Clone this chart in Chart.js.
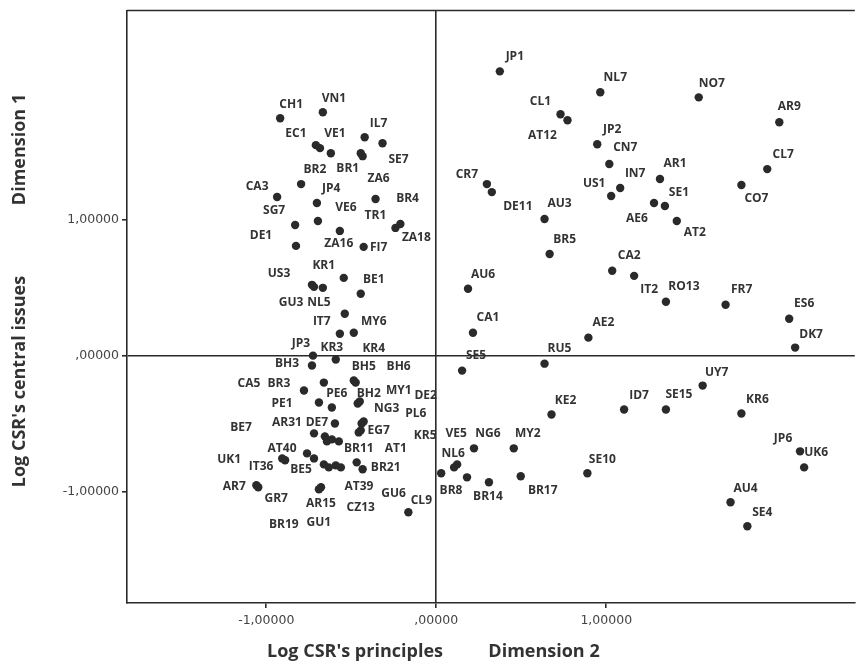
<!DOCTYPE html>
<html>
<head>
<meta charset="utf-8">
<script src="https://cdn.jsdelivr.net/npm/chart.js@4/dist/chart.umd.min.js"></script>
<style>
  html, body { margin: 0; padding: 0; background: #ffffff; overflow: hidden; }
  #wrap { width: 859px; height: 668px; }
</style>
</head>
<body>
<div id="wrap"><canvas id="c" width="859" height="668"></canvas></div>
<script>
// ---- Data ----
const pointLabels = [
  "CH1","VN1","EC1","BR2","VE1","IL7","SE7","BR1","ZA6","JP4","CA3","VE6","BR4","TR1","ZA18","SG7","",
  "ZA16","FI7","DE1","KR1","US3","GU3","NL5","BE1","IT7","MY6","KR3","KR4","JP3","BH3","BH5","BH6",
  "CA5","BR3","PE6","PE1","BH2","MY1","NG3","DE2","EG7","PL6","DE7","BE7","AR31","BR11","AT1","",
  "AT40","BE5","IT36","UK1","BR19","GU1","CZ13","","BR21","GU6","AR7","GR7","AT39","AR15","CL9",
  "JP1","NL7","NO7","AR9","CL1","AT12","JP2","CN7","CL7","AR1","IN7","US1","CR7","DE11","CO7","SE1",
  "AE6","AU3","AT2","BR5","CA2","IT2","RO13","AU6","FR7","ES6","CA1","AE2","DK7","RU5","SE5","UY7",
  "KE2","ID7","SE15","KR6","NG6","MY2","KR5","VE5","NL6","BR8","BR14","BR17","SE10","JP6","UK6","AU4","SE4"
];
const dimension2 = [
  -0.918,-0.667,-0.708,-0.684,-0.620,-0.421,-0.316,-0.444,-0.433,-0.795,-0.936,-0.702,-0.357,-0.240,-0.211,-0.830,-0.696,
  -0.567,-0.427,-0.825,-0.544,-0.731,-0.719,-0.667,-0.444,-0.538,-0.485,-0.567,-0.591,-0.725,-0.731,-0.485,-0.474,
  -0.778,-0.661,-0.614,-0.690,-0.462,-0.450,-0.439,-0.427,-0.456,-0.444,-0.596,-0.719,-0.655,-0.614,-0.573,-0.643,
  -0.760,-0.719,-0.889,-0.906,-0.661,-0.632,-0.591,-0.561,-0.468,-0.433,-1.058,-1.047,-0.678,-0.690,-0.164,
  0.374,0.965,1.544,2.018,0.731,0.772,0.947,1.018,1.947,1.316,1.082,1.029,0.298,0.327,1.795,1.345,
  1.281,0.637,1.415,0.667,1.035,1.164,1.351,0.187,1.702,2.076,0.216,0.895,2.111,0.637,0.152,1.567,
  0.678,1.105,1.351,1.795,0.222,0.456,0.029,0.123,0.105,0.181,0.310,0.497,0.889,2.140,2.164,1.731,1.830
];
const dimension1 = [
  1.744,1.788,1.546,1.524,1.487,1.604,1.560,1.487,1.465,1.260,1.165,1.121,1.150,0.938,0.967,0.960,0.989,
  0.916,0.799,0.806,0.571,0.520,0.505,0.498,0.454,0.308,0.168,0.161,-0.029,0.000,-0.073,-0.183,-0.198,
  -0.256,-0.198,-0.381,-0.344,-0.352,-0.337,-0.498,-0.484,-0.564,-0.549,-0.498,-0.571,-0.593,-0.615,-0.630,-0.630,
  -0.718,-0.755,-0.769,-0.755,-0.799,-0.821,-0.806,-0.821,-0.784,-0.835,-0.952,-0.967,-0.967,-0.982,-1.150,
  2.088,1.934,1.897,1.714,1.773,1.729,1.553,1.407,1.370,1.297,1.231,1.172,1.260,1.201,1.253,1.099,
  1.121,1.004,0.989,0.747,0.623,0.586,0.396,0.491,0.374,0.271,0.168,0.132,0.059,-0.059,-0.110,-0.220,
  -0.432,-0.396,-0.396,-0.425,-0.681,-0.681,-0.864,-0.799,-0.821,-0.894,-0.930,-0.886,-0.864,-0.703,-0.821,-1.077,-1.253
];
const xTickValues = [-1, 0, 1];
const xTickLabels = ["-1,00000", ",00000", "1,00000"];
const yTickValues = [-1, 0, 1];
const yTickLabels = ["-1,00000", ",00000", "1,00000"];
const xTitleParts = ["Log CSR's principles", "Dimension 2"];
const yTitleParts = ["Log CSR's central issues", "Dimension 1"];

// ---- Layout: label placement offsets (px) relative to each point ----
const labelOffsets = [
  [11,-14],[11,-14],[-20,-12],[-5,21],[4,-20],[14,-14],[16,16],[-13,15],[16,22],[30,4],[-20,-10],[29,5],[32,0],[-20,-12],[16,14],[-21,-14],[0,0],
  [-1,13],[15,1],[-35,-10],[-20,-12],[-33,-11],[-23,16],[-4,15],[13,-14],[-23,8],[20,-11],[-8,14],[38,-11],[-12,-12],[-25,-2],[10,-14],[43,-16],
  [-55,-7],[-45,1],[5,-14],[-37,1],[11,-10],[39,-11],[25,-15],[62,-26],[20,-2],[55,-17],[-18,-1],[-73,-6],[-38,-14],[27,9],[57,7],[0,0],
  [-25,-5],[-13,11],[-24,6],[-53,1],[-40,60],[-10,55],[25,42],[0,0],[29,5],[31,24],[-22,1],[18,11],[38,-1],[2,14],[13,-12],
  [15,-15],[15,-15],[13,-14],[10,-16],[-20,-13],[-25,15],[15,-15],[16,-16],[16,-15],[15,-15],[15,-14],[-17,-12],[-20,-10],[26,14],[15,14],[14,-13],
  [-17,16],[15,-15],[18,12],[15,-14],[17,-15],[15,14],[18,-15],[15,-14],[16,-15],[15,-15],[15,-15],[15,-15],[16,-13],[15,-15],[14,-15],[14,-13],
  [14,-14],[15,-14],[13,-15],[16,-14],[14,-15],[14,-15],[-16,-38],[-1,-31],[-1,-14],[-16,13],[-1,14],[22,14],[15,-14],[-17,-13],[12,-15],[15,-14],[15,-14]
];

const points = dimension2.map((x, i) => ({ x: x, y: dimension1[i] }));
const INK = '#2a2a2a';
const FONT = '"Open Sans", "DejaVu Sans", sans-serif';
const TICKFONT = '"DejaVu Sans", sans-serif';

const labelPlugin = {
  id: 'pointLabels',
  afterDatasetsDraw(chart) {
    const ctx = chart.ctx;
    const meta = chart.getDatasetMeta(0);
    ctx.save();
    ctx.font = 'bold 12px ' + FONT;
    ctx.fillStyle = '#333333';
    ctx.textAlign = 'center';
    ctx.textBaseline = 'middle';
    meta.data.forEach((el, i) => {
      const txt = pointLabels[i];
      if (!txt) return;
      const off = labelOffsets[i] || [14, -14];
      ctx.fillText(txt, el.x + off[0], el.y + off[1]);
    });
    ctx.restore();
  }
};

const framePlugin = {
  id: 'frameAndTitles',
  afterDraw(chart) {
    const ctx = chart.ctx;
    const a = chart.chartArea;
    ctx.save();
    ctx.strokeStyle = INK;
    ctx.lineWidth = 1.6;
    ctx.beginPath();
    ctx.moveTo(a.left, a.top);
    ctx.lineTo(a.right, a.top);
    ctx.stroke();
    // axis titles
    ctx.fillStyle = '#333333';
    ctx.font = 'bold 18px ' + FONT;
    ctx.textBaseline = 'middle';
    ctx.textAlign = 'center';
    const ty = a.bottom + 49;
    ctx.fillText(xTitleParts[0], a.left + 228, ty);
    ctx.fillText(xTitleParts[1], a.left + 417, ty);
    ctx.translate(20, 0);
    ctx.rotate(-Math.PI / 2);
    ctx.fillText(yTitleParts[0], -(a.top + 371), 0);
    ctx.fillText(yTitleParts[1], -(a.top + 139), 0);
    ctx.restore();
  }
};

const zeroGrid = (ctx) => (ctx.tick && ctx.tick.value === 0) ? INK : 'rgba(0,0,0,0)';

new Chart(document.getElementById('c'), {
  type: 'scatter',
  data: {
    datasets: [{
      data: points,
      pointRadius: 4.2,
      pointHoverRadius: 4.2,
      pointBackgroundColor: INK,
      pointBorderColor: INK,
      pointBorderWidth: 0
    }]
  },
  options: {
    responsive: false,
    animation: false,
    events: [],
    layout: { padding: { top: 9, right: 0, left: 0, bottom: 0 } },
    plugins: { legend: { display: false }, tooltip: { enabled: false } },
    scales: {
      x: {
        type: 'linear',
        min: -1.819,
        max: 2.462,
        afterBuildTicks: (s) => { s.ticks = xTickValues.map(v => ({ value: v })); },
        afterFit: (s) => { s.height = 65; },
        ticks: {
          callback: (v) => xTickLabels[xTickValues.indexOf(v)],
          color: '#444444',
          font: { size: 12.5, family: TICKFONT },
          padding: 5,
          maxRotation: 0
        },
        grid: { color: zeroGrid, lineWidth: 1.6, tickColor: INK, tickLength: 5, drawTicks: true },
        border: { display: true, color: INK, width: 1.6 }
      },
      y: {
        type: 'linear',
        min: -1.817,
        max: 2.535,
        afterBuildTicks: (s) => { s.ticks = yTickValues.map(v => ({ value: v })); },
        afterFit: (s) => { s.width = 127; },
        ticks: {
          callback: (v) => yTickLabels[yTickValues.indexOf(v)],
          color: '#444444',
          font: { size: 12.5, family: TICKFONT },
          padding: 3
        },
        grid: { color: zeroGrid, lineWidth: 1.6, tickColor: INK, tickLength: 5, drawTicks: true },
        border: { display: true, color: INK, width: 1.6 }
      }
    }
  },
  plugins: [labelPlugin, framePlugin]
});
</script>
</body>
</html>
